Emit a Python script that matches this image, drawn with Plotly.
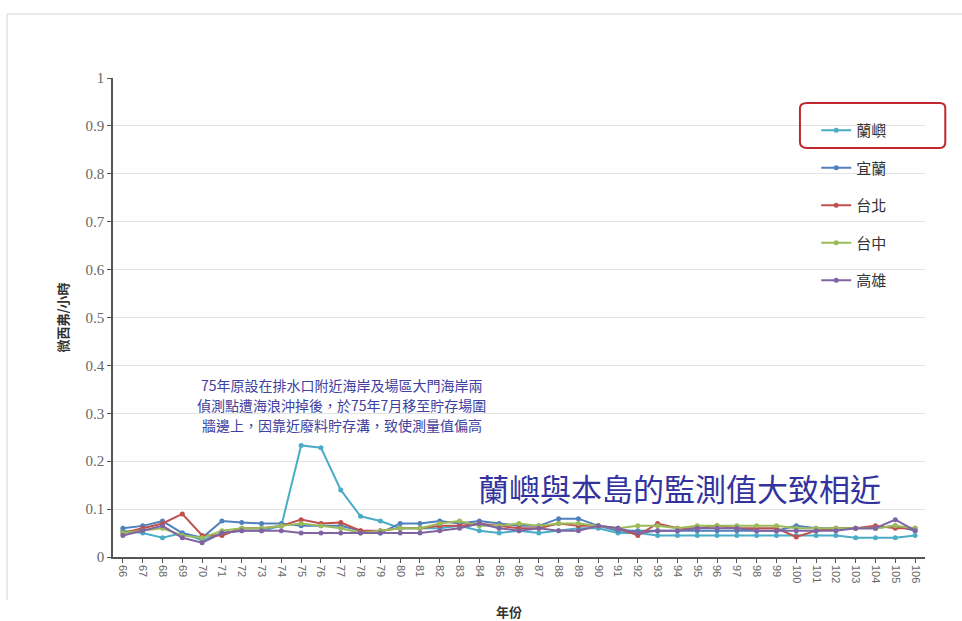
import plotly.graph_objects as go

years = [str(y) for y in range(66, 107)]

lanyu = [0.055, 0.05, 0.04, 0.05, 0.035, 0.05, 0.055, 0.055, 0.065, 0.233,
         0.228, 0.14, 0.085, 0.075, 0.06, 0.06, 0.06, 0.065, 0.055, 0.05,
         0.055, 0.05, 0.055, 0.06, 0.06, 0.05, 0.05, 0.045, 0.045, 0.045,
         0.045, 0.045, 0.045, 0.045, 0.045, 0.045, 0.045, 0.04, 0.04, 0.04, 0.045]
yilan = [0.06, 0.065, 0.075, 0.05, 0.04, 0.075, 0.072, 0.07, 0.07, 0.065,
         0.065, 0.065, 0.055, 0.05, 0.07, 0.07, 0.075, 0.07, 0.075, 0.07,
         0.065, 0.065, 0.08, 0.08, 0.065, 0.055, 0.055, 0.055, 0.055, 0.055,
         0.055, 0.055, 0.055, 0.055, 0.065, 0.06, 0.06, 0.06, 0.06, 0.065, 0.055]
taipei = [0.05, 0.06, 0.07, 0.09, 0.045, 0.045, 0.06, 0.06, 0.065, 0.078,
          0.07, 0.072, 0.055, 0.055, 0.06, 0.06, 0.065, 0.065, 0.07, 0.065,
          0.06, 0.06, 0.07, 0.065, 0.065, 0.06, 0.045, 0.07, 0.06, 0.06,
          0.065, 0.06, 0.06, 0.06, 0.042, 0.055, 0.06, 0.06, 0.065, 0.06, 0.06]
taichung = [0.05, 0.055, 0.06, 0.045, 0.04, 0.055, 0.06, 0.06, 0.065, 0.07,
            0.065, 0.06, 0.05, 0.055, 0.06, 0.06, 0.07, 0.075, 0.065, 0.065,
            0.07, 0.065, 0.07, 0.07, 0.065, 0.06, 0.065, 0.065, 0.06, 0.065,
            0.065, 0.065, 0.065, 0.065, 0.06, 0.06, 0.06, 0.06, 0.06, 0.065, 0.06]
kaohsiung = [0.045, 0.055, 0.065, 0.04, 0.03, 0.05, 0.055, 0.055, 0.055, 0.05,
             0.05, 0.05, 0.05, 0.05, 0.05, 0.05, 0.055, 0.06, 0.07, 0.06,
             0.055, 0.06, 0.055, 0.055, 0.065, 0.06, 0.05, 0.055, 0.055, 0.06,
             0.06, 0.06, 0.055, 0.055, 0.055, 0.055, 0.055, 0.06, 0.06, 0.078, 0.055]

series_names = ["蘭嶼", "宜蘭", "台北", "台中", "高雄"]
series_values = [lanyu, yilan, taipei, taichung, kaohsiung]
series_colors = ["#4bacc6", "#4f81bd", "#c0504d", "#9bbb59", "#8064a2"]

note_lines = [
    "75年原設在排水口附近海岸及場區大門海岸兩",
    "偵測點遭海浪沖掉後，於75年7月移至貯存場圍",
    "牆邊上，因靠近廢料貯存溝，致使測量值偏高",
]
note_y = [0.359, 0.3173, 0.2756]
headline = "蘭嶼與本島的監測值大致相近"
x_title = "年份"
y_title = "微西弗/小時"

fig = go.Figure()
for name, vals, col in zip(series_names, series_values, series_colors):
    fig.add_trace(go.Scatter(
        x=years, y=vals, name=name, mode="lines+markers",
        line=dict(color=col, width=2), marker=dict(color=col, size=5),
        legendgroup=name,
    ))

fig.update_layout(
    width=962, height=621,
    margin=dict(l=113, r=37, t=78, b=64, autoexpand=False),
    plot_bgcolor="white", paper_bgcolor="white",
    showlegend=True,
    legend=dict(x=0.866, y=0.925, xanchor="left", yanchor="top",
                font=dict(family="Noto Sans CJK TC", size=15, color="#333333"),
                tracegroupgap=15, traceorder="grouped",
                bgcolor="rgba(0,0,0,0)"),
    xaxis=dict(
        type="category", range=[-0.5, 40.5], automargin=False,
        tickangle=90, tickfont=dict(family="Liberation Sans", size=11, color="#666666"),
        showline=True, linecolor="#555555", linewidth=1.5,
        ticks="outside", ticklen=4, tickcolor="#555555",
        showgrid=False,
    ),
    yaxis=dict(
        range=[0, 1], dtick=0.1, tickformat="~g", automargin=False,
        tickfont=dict(family="Liberation Serif", size=15, color="#666666"),
        showline=True, linecolor="#555555", linewidth=1.5,
        ticks="outside", ticklen=4, tickcolor="#555555",
        showgrid=True, gridcolor="#e3e3e3", gridwidth=1,
        zeroline=False,
        title=dict(text="<b>" + y_title + "</b>", font=dict(family="Noto Sans CJK TC", size=13, color="#333333"), standoff=14),
    ),
)

fig.add_annotation(
    xref="paper", yref="paper", x=0.4877, y=-0.1148, xanchor="center", yanchor="middle",
    showarrow=False, text="<b>" + x_title + "</b>",
    font=dict(family="Noto Sans CJK TC", size=13, color="#333333"),
)

for line_text, yv in zip(note_lines, note_y):
    fig.add_annotation(
        xref="paper", yref="y", x=0.282, y=yv, xanchor="center", yanchor="middle",
        showarrow=False, text=line_text, borderpad=0,
        font=dict(family="Noto Sans CJK TC", size=14, color="#4040a0"),
    )
fig.add_annotation(
    xref="paper", yref="y", x=0.698, y=0.146, xanchor="center", yanchor="middle",
    showarrow=False, text=headline,
    font=dict(family="Noto Sans CJK TC", size=31, color="#3333a0"),
)

# red rounded box around first legend entry
fig.add_shape(
    type="path", xref="paper", yref="y",
    path="M 0.855,0.948 L 1.018,0.948 Q 1.025,0.948 1.025,0.937 L 1.025,0.866 Q 1.025,0.854 1.018,0.854 L 0.855,0.854 Q 0.846,0.854 0.846,0.866 L 0.846,0.937 Q 0.846,0.948 0.855,0.948 Z",
    line=dict(color="#c0282d", width=2),
)

# faint outer frame of the original slide
fig.add_shape(type="line", xref="paper", yref="paper", x0=-0.1305, x1=1.05, y0=1.1336, y1=1.1336,
              line=dict(color="#e2e2e2", width=1.5))
fig.add_shape(type="line", xref="paper", yref="paper", x0=-0.1305, x1=-0.1305, y0=1.1336, y1=-0.09,
              line=dict(color="#e2e2e2", width=1.5))

fig.write_html("out.html")
